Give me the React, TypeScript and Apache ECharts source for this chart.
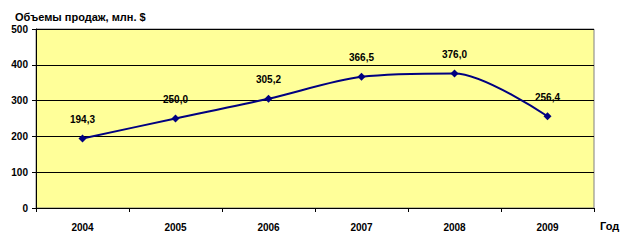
import React, { useEffect, useRef } from "react";
import * as echarts from "echarts";

const years = ["2004", "2005", "2006", "2007", "2008", "2009"];
const sales = [194.3, 250.0, 305.2, 366.5, 376.0, 256.4];
const yTicks = [0, 100, 200, 300, 400, 500];

export default function App() {
  const ref = useRef<HTMLDivElement>(null);
  useEffect(() => {
    const chart = echarts.init(ref.current!, null, { renderer: "svg" });
    chart.setOption({
      animation: false,
      backgroundColor: "#ffffff",
      textStyle: { fontFamily: "Liberation Sans, Arial, sans-serif" },
      title: {
        text: "Объемы продаж, млн. $",
        left: 10,
        top: 6,
        textStyle: { fontSize: 11, fontWeight: "bold", color: "#000" },
      },
      grid: {
        left: 36,
        right: 29,
        top: 29,
        bottom: 40,
        show: true,
        backgroundColor: "#FFFF99",
        borderColor: "#808080",
        borderWidth: 1,
      },
      xAxis: {
        type: "category",
        data: years,
        boundaryGap: true,
        name: "Год",
        nameLocation: "end",
        nameGap: 6,
        nameTextStyle: { fontSize: 11, fontWeight: "bold", color: "#000", verticalAlign: "top", padding: [12, 0, 0, 0] },
        axisLine: { lineStyle: { color: "#000", width: 1 } },
        axisTick: { show: true, alignWithLabel: false, length: 4, lineStyle: { color: "#000" } },
        axisLabel: { fontSize: 10, fontWeight: "bold", color: "#000", margin: 14 },
      },
      yAxis: {
        type: "value",
        min: yTicks[0],
        max: yTicks[yTicks.length - 1],
        interval: 100,
        axisLine: { show: true, lineStyle: { color: "#000", width: 1 } },
        axisTick: { show: true, length: 4, lineStyle: { color: "#000" } },
        axisLabel: { fontSize: 10, fontWeight: "bold", color: "#000", margin: 8 },
        splitLine: { lineStyle: { color: "#000", width: 1 } },
      },
      series: [
        {
          type: "line",
          data: sales,
          smooth: 0.3,
          symbol: "diamond",
          symbolSize: 8,
          lineStyle: { color: "#000080", width: 2 },
          itemStyle: { color: "#000080" },
          labelLayout: { moveOverlap: false, hideOverlap: false },
          label: {
            show: true,
            position: "top",
            distance: 10,
            fontSize: 10,
            fontWeight: "bold",
            color: "#000",
            formatter: (p: any) => p.value.toFixed(1).replace(".", ","),
          },
        },
      ],
    });
    return () => chart.dispose();
  }, []);
  return <div ref={ref} style={{ width: 623, height: 248, position: "absolute", left: 0, top: 0 }} />;
}
